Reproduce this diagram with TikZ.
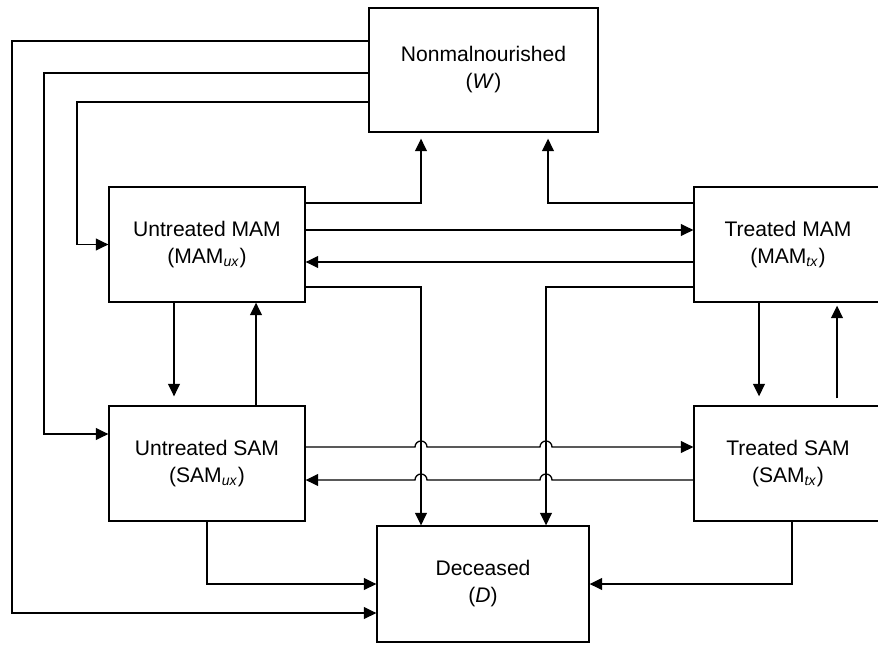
\documentclass[tikz,border=0pt]{standalone}
\usepackage{fontspec}
\setmainfont{Liberation Sans}
\usetikzlibrary{arrows.meta}
\tikzset{
    state-box/.style = {draw, line width=0.8pt, rectangle, align=center, inner sep=0pt, font=\fontsize{12}{15.4}\selectfont},
    flow/.style = {line width=0.75pt, -{Triangle[length=0.25cm, width=0.24cm]}},
}

\begin{document}
\begin{tikzpicture}[x=0.02cm, y=-0.02cm]
\useasboundingbox (0,0) rectangle (878,645);
\node [state-box, minimum width=4.58cm, minimum height=2.48cm] (W) at (483.5,70) {Nonmalnourished\\(\textit{W})};
\node [state-box, minimum width=3.92cm, minimum height=2.3cm] (MAMux) at (207,244.5) {Untreated MAM\\(MAM\textsubscript{\textit{ux}})};
\node [state-box, minimum width=3.76cm, minimum height=2.3cm] (MAMtx) at (788,244.5) {Treated MAM\\(MAM\textsubscript{\textit{tx}})};
\node [state-box, minimum width=3.92cm, minimum height=2.3cm] (SAMux) at (207,463.5) {Untreated SAM\\(SAM\textsubscript{\textit{ux}})};
\node [state-box, minimum width=3.76cm, minimum height=2.3cm] (SAMtx) at (788,463.5) {Treated SAM\\(SAM\textsubscript{\textit{tx}})};
\node [state-box, minimum width=4.24cm, minimum height=2.32cm] (D) at (483,584) {Deceased\\(\textit{D})};
% from W, round the left side
\draw [flow] (W.west |- 0,41) -| (12,613) -- (D.west |- 0,613);
\draw [flow] (W.west |- 0,73) -| (44,434) -- (SAMux.west |- 0,434);
\draw [flow] (W.west |- 0,102) -| (77,244.5) -- (MAMux.west);
% MAM
\draw [flow, shorten >=0.12cm] (MAMux.east |- 0,203) -| (W.south -| 421,0);
\draw [flow] (MAMux.east |- 0,230) -- (MAMtx.west |- 0,230);
\draw [flow] (MAMtx.west |- 0,262) -- (MAMux.east |- 0,262);
\draw [flow] (MAMux.east |- 0,287) -| (D.north -| 421,0);
\draw [flow, shorten >=0.12cm] (MAMtx.west |- 0,203) -| (W.south -| 548,0);
\draw [flow] (MAMtx.west |- 0,287) -| (D.north -| 546,0);
\draw [flow, shorten >=0.18cm] (MAMux.south -| 174,0) -- (SAMux.north -| 174,0);
\draw [flow] (SAMux.north -| 256,0) -- (MAMux.south -| 256,0);
\draw [flow, shorten >=0.18cm] (MAMtx.south -| 759,0) -- (SAMtx.north -| 759,0);
\draw [flow, shorten <=0.14cm, shorten >=0.06cm] (SAMtx.north -| 837,0) -- (MAMtx.south -| 837,0);
% SAM, hopping over the lines to D
\draw [flow] (SAMux.east |- 0,447) -- (415,447) arc (180:360:6) -- (540,447) arc (180:360:6) -- (SAMtx.west |- 0,447);
\draw [flow] (SAMtx.west |- 0,480) -- (552,480) arc (0:-180:6) -- (427,480) arc (0:-180:6) -- (SAMux.east |- 0,480);
\draw [flow] (SAMux.south -| 207,0) |- (D.west);
\draw [flow] (SAMtx.south -| 792,0) |- (D.east);
\end{tikzpicture}
\end{document}
